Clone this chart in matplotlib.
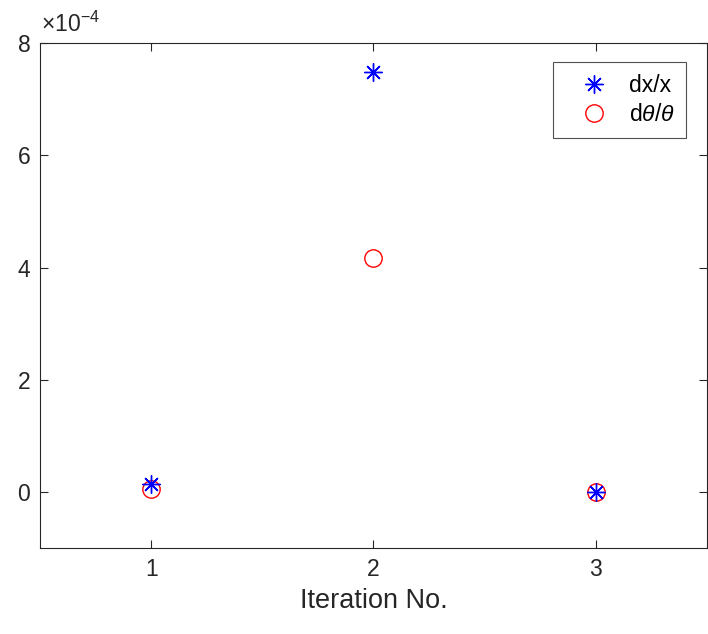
import matplotlib
matplotlib.use('Agg')
import matplotlib.pyplot as plt
from matplotlib.ticker import FuncFormatter

plt.rcParams['font.family'] = ['Liberation Sans', 'DejaVu Sans']
plt.rcParams['mathtext.fontset'] = 'custom'
plt.rcParams['mathtext.it'] = 'Liberation Sans:italic'
plt.rcParams['mathtext.rm'] = 'Liberation Sans'

# data
iters = [1, 2, 3]
dx_x = [1.4e-5, 7.49e-4, 0.0]
dth_th = [5e-6, 4.17e-4, 0.0]
yticks = [0, 2e-4, 4e-4, 6e-4, 8e-4]

fig = plt.figure(figsize=(7.08, 6.34), dpi=100)
ax = fig.add_axes([0.0565, 0.1356, 0.942, 0.7964])

ax.plot(iters, dx_x, linestyle='none', marker=(8, 2, 0), markersize=13,
        color='blue', markeredgewidth=1.0, label='dx/x', zorder=4)
ax.plot(iters, dth_th, linestyle='none', marker='o', markersize=12.5,
        markerfacecolor='none', markeredgecolor='red', markeredgewidth=1.0,
        label=r'd$\theta$/$\theta$', zorder=3)

ax.set_xlim(0.5, 3.5)
ax.set_ylim(-1e-4, 8e-4)
ax.set_xticks(iters)
ax.set_yticks(yticks)
ax.yaxis.set_major_formatter(FuncFormatter(lambda v, p: '%g' % round(v * 1e4, 6)))
ax.tick_params(direction='in', top=True, right=True, labelsize=16.5,
               colors='#262626', length=6, width=0.8, pad=7)
for s in ax.spines.values():
    s.set_color('#262626')
    s.set_linewidth(0.8)

ax.text(0.002, 1.012, r'$\times$10$^{-4}$', transform=ax.transAxes,
        fontsize=16.5, color='#262626', va='bottom', ha='left')

ax.set_xlabel('Iteration No.', fontsize=19.5, color='#262626', labelpad=5)

leg = ax.legend(loc='upper right', fontsize=16.5, frameon=True, fancybox=False,
                edgecolor='#262626', borderpad=0.5, handletextpad=0.2,
                handlelength=2.6, labelspacing=0.3, borderaxespad=0,
                bbox_to_anchor=(0.9685, 0.9624))
leg.get_frame().set_linewidth(0.8)

fig.savefig('out.png', dpi=100)
